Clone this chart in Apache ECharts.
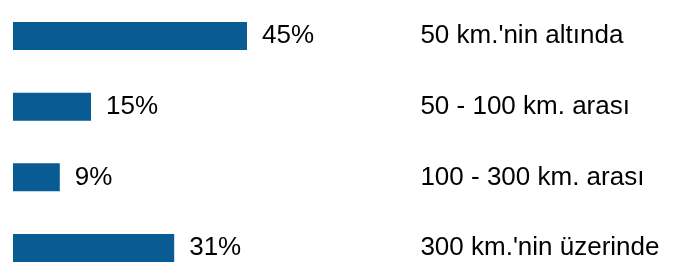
<!DOCTYPE html>
<html>
<head>
<meta charset="utf-8">
<script src="https://cdn.jsdelivr.net/npm/echarts@6/dist/echarts.min.js"></script>
<style>html,body{margin:0;padding:0;background:#fff;}#c{width:682px;height:263px;}</style>
</head>
<body>
<div id="c"></div>
<script>
const categories = ["50 km.'nin altında", "50 - 100 km. arası", "100 - 300 km. arası", "300 km.'nin üzerinde"];
const values = [45, 15, 9, 31];

const chart = echarts.init(document.getElementById('c'), null, {renderer: 'canvas'});
chart.setOption({
  animation: false,
  backgroundColor: '#ffffff',
  grid: {left: 13, top: 36, width: 400.4, bottom: 15, containLabel: false},
  xAxis: {type: 'value', min: 0, max: 77, show: false},
  yAxis: {
    type: 'category', data: categories, inverse: true, position: 'right', boundaryGap: false,
    axisLine: {show: false}, axisTick: {show: false}, splitLine: {show: false},
    axisLabel: {margin: 7, fontSize: 26, color: '#000', fontFamily: 'Liberation Sans, Arial, sans-serif', align: 'left', padding: [0, 0, 2, 0]}
  },
  series: [{
    type: 'bar', data: values, barWidth: 28,
    itemStyle: {color: '#095b94'},
    label: {show: true, position: 'right', distance: 15, formatter: '{c}%', fontSize: 26, color: '#000', fontFamily: 'Liberation Sans, Arial, sans-serif', padding: [6, 0, 0, 0]}
  }]
});
</script>
</body>
</html>
